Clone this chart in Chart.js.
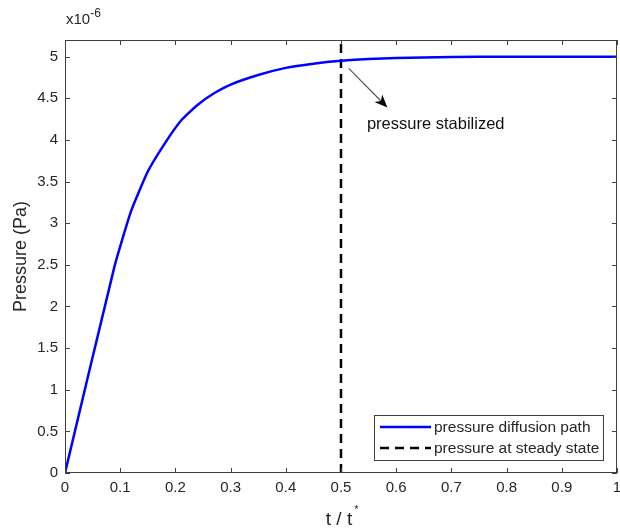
<!DOCTYPE html>
<html>
<head>
<meta charset="utf-8">
<script src="https://cdn.jsdelivr.net/npm/chart.js@4/dist/chart.umd.min.js"></script>
<style>
  html, body { margin: 0; padding: 0; background: #fff; }
  #wrap { width: 620px; height: 531px; }
</style>
</head>
<body>
<div id="wrap"><canvas id="pressure"></canvas></div>
<script>
// t / t* sample points and pressure values (x10^-6 Pa)
const timeValues = [0, 0.09, 0.12, 0.15, 0.18, 0.21, 0.24, 0.27, 0.30, 0.35, 0.40, 0.45, 0.50, 0.55, 0.60, 0.70, 0.80, 0.90, 1.0];
const pressureValues = [0, 2.49, 3.15, 3.62, 3.95, 4.23, 4.42, 4.56, 4.665, 4.78, 4.865, 4.915, 4.95, 4.972, 4.985, 4.996, 5.0, 5.0, 5.0];
const steadyTime = 0.5;
const xTicks = [0, 0.1, 0.2, 0.3, 0.4, 0.5, 0.6, 0.7, 0.8, 0.9, 1];
const yTicks = [0, 0.5, 1, 1.5, 2, 2.5, 3, 3.5, 4, 4.5, 5];
const seriesLabels = ["pressure diffusion path", "pressure at steady state"];

const axisColor = "#404040";
const textColor = "#262626";
const fontFamily = "'Liberation Sans', Arial, sans-serif";

const matlabAxes = {
  id: "matlabAxes",
  afterDraw(chart) {
    const { ctx, chartArea: a, scales } = chart;
    const xs = scales.x, ys = scales.y;
    ctx.save();
    ctx.strokeStyle = axisColor;
    ctx.lineWidth = 1;
    ctx.strokeRect(a.left + 0.5, a.top + 0.5, a.right - a.left - 1, a.bottom - a.top - 1);
    ctx.beginPath();
    xTicks.forEach((v) => {
      const px = Math.round(xs.getPixelForValue(v)) + 0.5;
      ctx.moveTo(px, a.bottom); ctx.lineTo(px, a.bottom - 5);
      ctx.moveTo(px, a.top); ctx.lineTo(px, a.top + 5);
    });
    yTicks.forEach((v) => {
      const py = Math.round(ys.getPixelForValue(v)) + 0.5;
      ctx.moveTo(a.left, py); ctx.lineTo(a.left + 5, py);
      ctx.moveTo(a.right, py); ctx.lineTo(a.right - 5, py);
    });
    ctx.stroke();

    // exponent label
    ctx.fillStyle = textColor;
    ctx.font = "15px " + fontFamily;
    ctx.textBaseline = "alphabetic";
    ctx.textAlign = "left";
    ctx.fillText("x10", 66, 24);
    const w = ctx.measureText("x10").width;
    ctx.font = "12px " + fontFamily;
    ctx.fillText("-6", 66 + w, 17);

    // x axis title t / t*
    ctx.font = "19px " + fontFamily;
    const t1 = "t / t";
    const tw = ctx.measureText(t1).width;
    const cx = (a.left + a.right) / 2;
    ctx.fillText(t1, cx - tw / 2 - 2, 525);
    ctx.font = "11px " + fontFamily;
    ctx.fillText("*", cx + tw / 2, 513);

    // y axis title
    ctx.save();
    ctx.translate(26, (a.top + a.bottom) / 2);
    ctx.rotate(-Math.PI / 2);
    ctx.textAlign = "center";
    ctx.font = "18px " + fontFamily;
    ctx.fillText("Pressure (Pa)", 0, 0);
    ctx.restore();

    // annotation arrow
    const sx = xs.getPixelForValue(0.514), sy = ys.getPixelForValue(4.86);
    const ex = xs.getPixelForValue(0.584), ey = ys.getPixelForValue(4.39);
    const ang = Math.atan2(ey - sy, ex - sx);
    ctx.strokeStyle = "#555";
    ctx.lineWidth = 1.2;
    ctx.beginPath();
    ctx.moveTo(sx, sy);
    ctx.lineTo(ex - 8 * Math.cos(ang), ey - 8 * Math.sin(ang));
    ctx.stroke();
    ctx.fillStyle = "#000";
    ctx.beginPath();
    ctx.moveTo(ex, ey);
    ctx.lineTo(ex - 14 * Math.cos(ang - 0.4), ey - 14 * Math.sin(ang - 0.4));
    ctx.lineTo(ex - 9 * Math.cos(ang), ey - 9 * Math.sin(ang));
    ctx.lineTo(ex - 14 * Math.cos(ang + 0.4), ey - 14 * Math.sin(ang + 0.4));
    ctx.closePath();
    ctx.fill();
    ctx.fillStyle = "#111";
    ctx.font = "16.5px " + fontFamily;
    ctx.fillText("pressure stabilized", xs.getPixelForValue(0.547), ys.getPixelForValue(4.13));

    // legend
    const lx = 374, ly = 415, lw = 229, lh = 45;
    ctx.fillStyle = "#fff";
    ctx.fillRect(lx, ly, lw, lh);
    ctx.strokeStyle = axisColor;
    ctx.lineWidth = 1;
    ctx.strokeRect(lx + 0.5, ly + 0.5, lw, lh);
    chart.data.datasets.forEach((ds, i) => {
      const yy = ly + 12 + i * 21;
      ctx.strokeStyle = ds.borderColor;
      ctx.lineWidth = 2.5;
      ctx.setLineDash(ds.borderDash || []);
      ctx.beginPath();
      ctx.moveTo(lx + 6, yy); ctx.lineTo(lx + 57, yy);
      ctx.stroke();
      ctx.setLineDash([]);
      ctx.fillStyle = textColor;
      ctx.font = "15.5px " + fontFamily;
      ctx.textBaseline = "middle";
      ctx.fillText(seriesLabels[i], lx + 60, yy + 1);
    });
    ctx.restore();
  }
};

new Chart(document.getElementById("pressure"), {
  type: "line",
  data: {
    datasets: [
      {
        label: seriesLabels[0],
        data: timeValues.map((t, i) => ({ x: t, y: pressureValues[i] })),
        borderColor: "#0000ff",
        borderWidth: 2.5,
        pointRadius: 0,
        tension: 0.15,
      },
      {
        label: seriesLabels[1],
        data: [{ x: steadyTime, y: 0 }, { x: steadyTime, y: 5.2 }],
        borderColor: "#000000",
        borderWidth: 2.5,
        borderDash: [9, 6],
        pointRadius: 0,
      },
    ],
  },
  options: {
    responsive: true,
    maintainAspectRatio: false,
    animation: false,
    layout: { padding: { top: 40, right: 3, left: 0, bottom: 0 } },
    scales: {
      x: {
        type: "linear",
        min: 0,
        max: 1,
        afterFit: (s) => { s.height = 58; s.paddingLeft = 0; s.paddingRight = 0; },
        afterBuildTicks: (s) => { s.ticks = xTicks.map((v) => ({ value: v })); },
        grid: { display: false, drawTicks: false },
        border: { display: false },
        ticks: {
          padding: 6,
          color: textColor,
          font: { size: 15, family: fontFamily },
          maxRotation: 0,
          callback: (v) => String(Math.round(v * 10) / 10),
        },
      },
      y: {
        min: 0,
        max: 5.2,
        afterFit: (s) => { s.width = 65; s.paddingTop = 0; s.paddingBottom = 0; },
        afterBuildTicks: (s) => { s.ticks = yTicks.map((v) => ({ value: v })); },
        grid: { display: false, drawTicks: false },
        border: { display: false },
        ticks: {
          padding: 7,
          color: textColor,
          font: { size: 15, family: fontFamily },
          callback: (v) => String(v),
        },
      },
    },
    plugins: {
      legend: { display: false },
      tooltip: { enabled: false },
    },
  },
  plugins: [matlabAxes],
});
</script>
</body>
</html>
